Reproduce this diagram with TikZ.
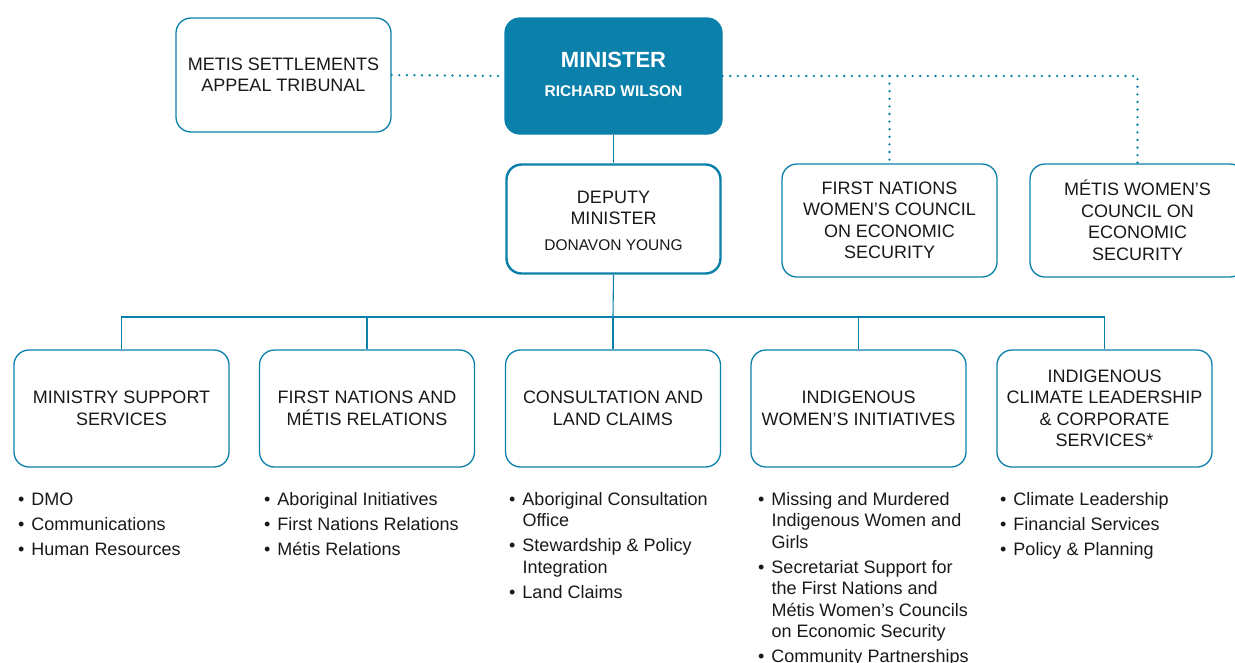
\documentclass[tikz,border=0pt]{standalone}
\usepackage{fontspec}
\setmainfont{Liberation Sans}
\definecolor{govblue}{RGB}{10,128,170}
\definecolor{txt}{RGB}{25,25,25}
\begin{document}
\begin{tikzpicture}[x=1pt,y=-1pt,
  font=\fontsize{18}{21.5}\selectfont, text=txt,
  box/.style={draw=govblue, line width=1.3pt, rounded corners=15pt, fill=white,
    minimum width=215pt, align=center, inner sep=0pt},
  conn/.style={draw=govblue, line width=1.1pt},
  dotline/.style={draw=govblue, line width=2.6pt, line cap=round, dash pattern=on 0pt off 7.6pt},
  blist/.style={anchor=north west, inner sep=0pt, align=left}
]
\useasboundingbox (0,0) rectangle (1235,662);
% top row
\node[box, minimum height=114pt] (metis) at (283.5,75) {METIS SETTLEMENTS\\APPEAL TRIBUNAL};
\node[box, fill=govblue, draw=govblue, minimum width=217pt, minimum height=116pt, text=white] (minister) at (613.5,76) {};
\node[text=white, font=\fontsize{22}{26}\selectfont\bfseries] (mtitle) at (613.5,59.5) {MINISTER};
\node[text=white, font=\fontsize{15.5}{18}\selectfont\bfseries] (mname) at (613.5,91) {RICHARD WILSON};
\node[box, line width=2.4pt, minimum width=214pt, minimum height=109pt] (deputy) at (613.5,219) {};
\node[align=center, inner sep=0pt] (dtitle) at (613.5,208) {DEPUTY\\MINISTER};
\node[font=\fontsize{15.5}{18}\selectfont] (dname) at (613.5,245) {DONAVON YOUNG};
\node[box, minimum height=113pt] (fnwc) at (889.5,220.5) {FIRST NATIONS\\WOMEN’S COUNCIL\\ON ECONOMIC\\SECURITY};
\node[box, minimum height=113pt] (mwc) at (1137.5,220.5) {MÉTIS WOMEN’S\\COUNCIL ON\\ECONOMIC\\SECURITY};
% bottom row
\node[box, minimum height=117pt] (b1) at (121.5,408.5) {MINISTRY SUPPORT\\SERVICES};
\node[box, minimum height=117pt] (b2) at (367,408.5) {FIRST NATIONS AND\\MÉTIS RELATIONS};
\node[box, minimum height=117pt] (b3) at (613,408.5) {CONSULTATION AND\\LAND CLAIMS};
\node[box, minimum height=117pt] (b4) at (858.5,408.5) {INDIGENOUS\\WOMEN’S INITIATIVES};
\node[box, minimum height=117pt] (b5) at (1104.5,408.5) {INDIGENOUS\\CLIMATE LEADERSHIP\\\& CORPORATE\\SERVICES*};
% connectors
\coordinate (bus) at (613,317);
\draw[conn] (minister.south) -- (deputy.north);
\draw[conn] (deputy.south) -- (bus);
\draw[conn] (b1.north) |- (bus) -| (b5.north);
\draw[conn] (b2.north) -- (b2.north |- bus);
\draw[conn] (b3.north) -- (bus);
\draw[conn] (b4.north) -- (b4.north |- bus);
\draw[dotline] (metis.east) -- (minister.west);
\draw[dotline] (minister.east) -| (mwc.north);
\draw[dotline] (minister.east -| fnwc.north) -- (fnwc.north);
% bullet lists
\node[blist] (l1) at (18,490) {\begin{tabular}{@{}l@{\hspace{7pt}}l@{}}
•&DMO\\[3.5pt] •&Communications\\[3.5pt] •&Human Resources\end{tabular}};
\node[blist] (l2) at (264,490) {\begin{tabular}{@{}l@{\hspace{7pt}}l@{}}
•&Aboriginal Initiatives\\[3.5pt] •&First Nations Relations\\[3.5pt] •&Métis Relations\end{tabular}};
\node[blist] (l3) at (509,490) {\begin{tabular}{@{}l@{\hspace{7pt}}l@{}}
•&Aboriginal Consultation\\ &Office\\[3.5pt] •&Stewardship \& Policy\\ &Integration\\[3.5pt] •&Land Claims\end{tabular}};
\node[blist] (l4) at (758,490) {\begin{tabular}{@{}l@{\hspace{7pt}}l@{}}
•&Missing and Murdered\\ &Indigenous Women and\\ &Girls\\[3.5pt] •&Secretariat Support for\\ &the First Nations and\\ &Métis Women’s Councils\\ &on Economic Security\\[3.5pt] •&Community Partnerships\end{tabular}};
\node[blist] (l5) at (1000,490) {\begin{tabular}{@{}l@{\hspace{7pt}}l@{}}
•&Climate Leadership\\[3.5pt] •&Financial Services\\[3.5pt] •&Policy \& Planning\end{tabular}};
\end{tikzpicture}
\end{document}
